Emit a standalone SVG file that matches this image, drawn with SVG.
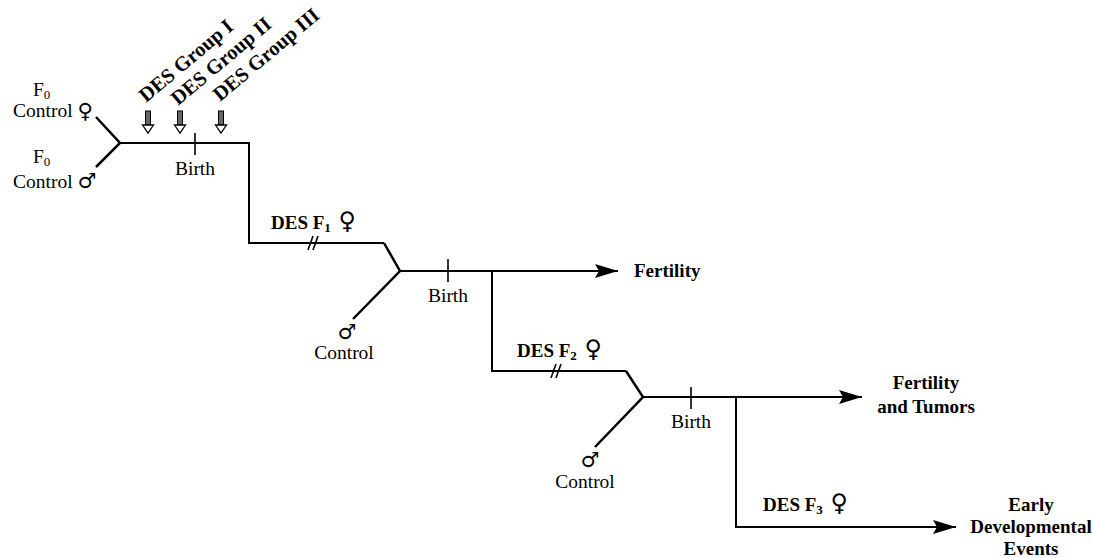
<svg xmlns="http://www.w3.org/2000/svg" width="1093" height="558" viewBox="0 0 1093 558">
<style>
.ln{fill:none;stroke:#000;stroke-width:2;stroke-linejoin:miter}
.arm{fill:none;stroke:#000;stroke-width:2.5}
.tk{fill:none;stroke:#000;stroke-width:1.6}
.r{font-family:"Liberation Serif","Times New Roman",serif;font-size:19.5px;fill:#000}
.b{font-family:"Liberation Serif","Times New Roman",serif;font-size:19px;font-weight:bold;fill:#000}
.g{font-size:20.5px}
.sym{font-family:"DejaVu Sans",sans-serif;font-weight:normal}
.c{text-anchor:middle}
</style>
<defs>
<marker id="ah" markerUnits="userSpaceOnUse" markerWidth="24" markerHeight="14" refX="23" refY="7" orient="auto">
<path d="M0,0 L23,7 L0,14 L4,7 z" fill="#000"/>
</marker>
<g id="desArrow">
<rect x="-2.5" y="0" width="5" height="14" fill="#666" stroke="#000" stroke-width="1"/>
<polygon points="-5.5,14 5.5,14 0,22" fill="#fff" stroke="#000" stroke-width="1.3"/>
</g>
</defs>

<g id="connectors">
<polyline class="arm" points="96,117 120,143 96,167"/>
<polyline class="ln" points="120,143 249,143 249,243 384,243"/>
<line class="tk" x1="195" y1="133" x2="195" y2="155"/>
<polyline class="arm" points="384,243 400,271 353,319"/>
<line class="ln" x1="400" y1="271" x2="618" y2="271" marker-end="url(#ah)"/>
<line class="tk" x1="448" y1="259" x2="448" y2="282"/>
<polyline class="ln" points="492,271 492,371 626,371"/>
<polyline class="arm" points="626,371 643,397 595,447"/>
<line class="ln" x1="643" y1="397" x2="862" y2="397" marker-end="url(#ah)"/>
<line class="tk" x1="691" y1="387" x2="691" y2="409"/>
<polyline class="ln" points="736,397 736,527 956,527" marker-end="url(#ah)"/>
<g class="tk">
<line x1="308" y1="250" x2="313" y2="236"/>
<line x1="313" y1="250" x2="318" y2="236"/>
<line x1="551" y1="378" x2="556" y2="364"/>
<line x1="556" y1="378" x2="561" y2="364"/>
</g>
</g>

<g id="des-arrows">
<use href="#desArrow" x="148" y="111"/>
<use href="#desArrow" x="180" y="111"/>
<use href="#desArrow" x="221" y="111"/>
</g>

<g id="des-groups">
<text class="b g" transform="translate(146,103) rotate(-40)">DES Group I</text>
<text class="b g" transform="translate(178,106) rotate(-40)">DES Group II</text>
<text class="b g" transform="translate(220,102) rotate(-40)">DES Group III</text>
</g>

<g id="f0-female">
<text class="r" x="33" y="96">F<tspan font-size="13" dy="3">0</tspan></text>
<text class="r" x="13" y="117">Control <tspan class="sym" font-size="21" dy="1">♀</tspan></text>
</g>
<g id="f0-male">
<text class="r" x="33" y="163">F<tspan font-size="13" dy="3">0</tspan></text>
<text class="r" x="13" y="188">Control <tspan class="sym" font-size="21">♂</tspan></text>
</g>

<g id="birth-labels">
<text class="r c" x="195" y="175">Birth</text>
<text class="r c" x="448" y="302">Birth</text>
<text class="r c" x="691" y="428">Birth</text>
</g>

<g id="des-f1">
<text class="b" x="271" y="229">DES F<tspan font-size="13" dy="3">1</tspan><tspan dy="-3"> </tspan><tspan class="sym" font-size="24" dx="3">♀</tspan></text>
</g>
<g id="control-f1">
<text class="sym" x="347" y="339" font-size="21" text-anchor="middle">♂</text>
<text class="r c" x="344" y="359">Control</text>
</g>
<g id="des-f2">
<text class="b" x="517" y="357">DES F<tspan font-size="13" dy="3">2</tspan><tspan dy="-3"> </tspan><tspan class="sym" font-size="24" dx="3">♀</tspan></text>
</g>
<g id="control-f2">
<text class="sym" x="590" y="467" font-size="21" text-anchor="middle">♂</text>
<text class="r c" x="585" y="488">Control</text>
</g>
<g id="des-f3">
<text class="b" x="763" y="511">DES F<tspan font-size="13" dy="3">3</tspan><tspan dy="-3"> </tspan><tspan class="sym" font-size="24" dx="3">♀</tspan></text>
</g>

<g id="outcome-fertility">
<text class="b" x="634" y="277">Fertility</text>
</g>
<g id="outcome-tumors">
<text class="b c" x="926" y="389">Fertility</text>
<text class="b c" x="926" y="413">and Tumors</text>
</g>
<g id="outcome-early">
<text class="b c" x="1031" y="511">Early</text>
<text class="b c" x="1031" y="533">Developmental</text>
<text class="b c" x="1031" y="555">Events</text>
</g>
</svg>
